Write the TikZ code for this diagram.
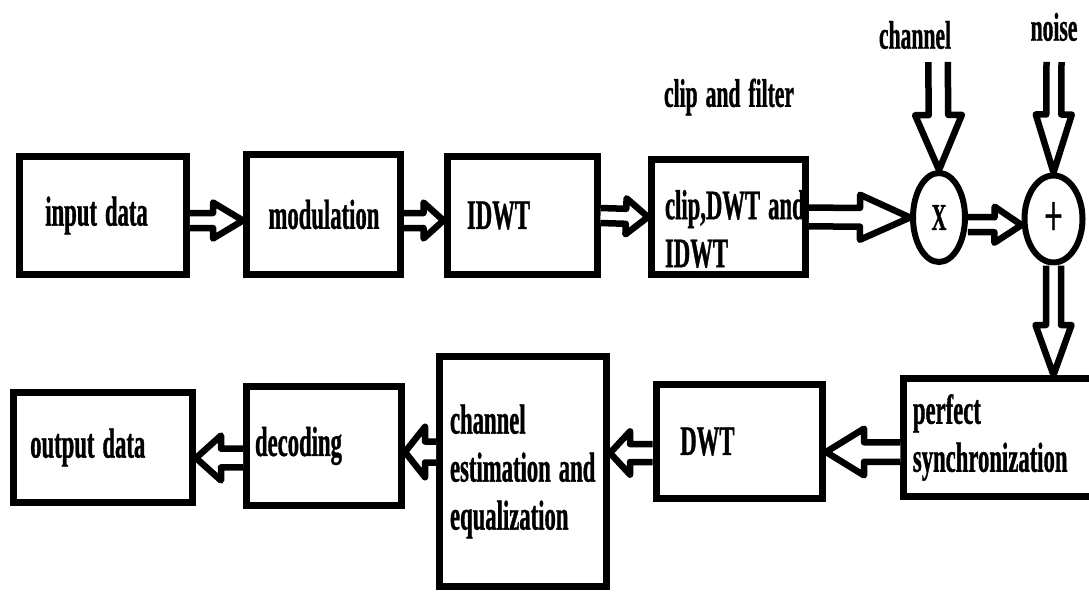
\documentclass[tikz,border=0pt]{standalone}
\usepackage{fontspec}
\newfontfamily\diagfont[FakeStretch=0.54, FakeBold=0.8]{Liberation Serif}
\usepackage{tikz}
\usetikzlibrary{calc}
\usetikzlibrary{shapes.geometric}

\newcommand{\fatarrow}[4][1]{%
	\coordinate (hb) at ($(#3)!#4!(#2)$);
	\draw[fat] ($(#2)!#1*7.5pt!90:(#3)$) -- ($(hb)!#1*7.5pt!-90:(#2)$) -- ($(hb)!#1*18pt!-90:(#2)$) -- (#3)
		-- ($(hb)!#1*18pt!90:(#2)$) -- ($(hb)!#1*7.5pt!90:(#2)$) -- ($(#2)!#1*7.5pt!-90:(#3)$);
}

\begin{document}
\begin{tikzpicture}[x=1pt, y=-1pt,
	blk/.style={draw, line width=7pt, inner sep=0pt, font=\diagfont\bfseries\fontsize{42pt}{48pt}\selectfont,
		execute at begin node={\spaceskip=8pt\relax}},
	mix/.style={draw, ellipse, line width=6pt, inner sep=0pt},
	lbl/.style={font=\diagfont\bfseries\fontsize{40pt}{46pt}\selectfont, execute at begin node={\spaceskip=8pt\relax}},
	fat/.style={draw, line width=6.5pt, fill=white, line join=round}]
	\useasboundingbox (0,0) rectangle (1089,592);

	\node[blk, minimum width=167pt, minimum height=118pt, text width=115pt] (indata) at (102.8,215.5) {input data};
	\node[blk, minimum width=154pt, minimum height=120pt, text width=110pt] (mod) at (323.5,214.5) {modulation};
	\node[blk, minimum width=150pt, minimum height=118pt, text width=110pt] (idwt) at (522,215.5) {IDWT};
	\node[blk, minimum width=154pt, minimum height=115pt, text width=127pt] (clip) at (728.5,217) {\rule{0pt}{53pt}clip,DWT~and\\IDWT};
	\node[mix, minimum width=52pt, minimum height=89pt, font=\diagfont\bfseries\fontsize{38pt}{38pt}\selectfont] (mult) at (939,217.5) {X};
	\node[mix, minimum width=58pt, minimum height=87pt, font=\diagfont\fontsize{60pt}{60pt}\selectfont] (add) at (1053.5,219) {+};

	\node[blk, minimum width=193pt, minimum height=118pt, text width=175pt] (sync) at (1000.4,437.5) {perfect\\synchronization};
	\node[blk, minimum width=166.5pt, minimum height=114pt, text width=118pt] (dwt) at (739.3,441.5) {DWT};
	\node[blk, minimum width=167pt, minimum height=230pt, text width=146pt] (chest) at (523,471.5) {channel\\estimation~and\\equalization};
	\node[blk, minimum width=155pt, minimum height=119pt, text width=138pt] (dec) at (324,446) {decoding};
	\node[blk, minimum width=178.6pt, minimum height=110pt, text width=146pt] (outdata) at (103.2,447.5) {output data};

	\node[lbl] (clipfilt) at (729,97) {clip and filter};
	\node[lbl] (chanlbl) at (915,35) {channel};
	\node[lbl] (noiselbl) at (1054,27) {noise};
	\coordinate (chanin) at (938,62);
	\coordinate (noisein) at (1054,62);

	\fatarrow{[yshift=-5pt]indata.east}{[yshift=-6pt]mod.west}{30pt}
	\fatarrow{[yshift=-6pt]mod.east}{[yshift=-5pt]idwt.west}{20pt}
	\fatarrow{idwt.east}{clip.west}{22pt}
	\fatarrow[1.25]{clip.east}{mult.west}{50pt}
	\fatarrow{[yshift=-7pt]mult.east}{[yshift=-6pt]add.west}{27pt}
	\fatarrow[1.3]{chanin}{mult.north}{55pt}
	\fatarrow{noisein}{add.north}{58pt}
	\fatarrow{add.south}{add.south |- sync.north}{50pt}
	\fatarrow[1.3]{[yshift=-14.5pt]sync.west}{[yshift=-10.5pt]dwt.east}{38pt}
	\fatarrow[1.2]{[yshift=-11.5pt]dwt.west}{[yshift=18.5pt]chest.east}{20pt}
	\fatarrow[1.4]{[yshift=19.5pt]chest.west}{[yshift=-6pt]dec.east}{20pt}
	\fatarrow[1.25]{[yshift=-12pt]dec.west}{[yshift=-10.5pt]outdata.east}{25pt}
\end{tikzpicture}
\end{document}
